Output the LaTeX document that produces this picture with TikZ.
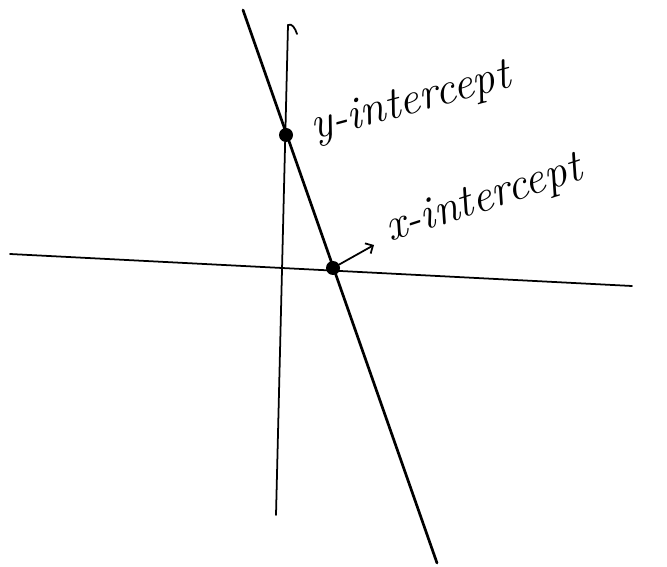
\documentclass[tikz,border=0pt]{standalone}
\usepackage{tikz}
\usetikzlibrary{arrows.meta, calc}

\begin{document}
\begin{tikzpicture}[x=0.03cm, y=-0.03cm, line cap=round]
            \useasboundingbox (0,0) rectangle (667,567);
            \tikzset{
                axis/.style={line width=1.5pt},
                graphline/.style={line width=2.3pt},
                dot/.style={circle, fill=black, inner sep=0pt, minimum size=0.42cm},
                label/.style={font=\fontsize{39}{42}\selectfont\itshape, inner sep=0pt}
            }
            \coordinate (Xleft) at (10, 254);
            \coordinate (Xright) at (632, 286);
            \coordinate (Ytop) at (288, 25);
            \coordinate (Ybot) at (276, 515);
            \coordinate (Ltop) at (243, 10);
            \coordinate (Lbot) at (437, 563);

            \draw[axis] (Xleft) -- (Xright);
            \draw[axis] (Ytop) -- (Ybot);
            \draw[axis] (Ytop) .. controls (292, 23) and (295, 28) .. (297, 34);
            \draw[graphline] (Ltop) -- (Lbot);

            \node[dot] (yint) at (286, 135) {};
            \node[dot] (xint) at (333, 268) {};

            \node[label, anchor=base west, rotate=15] (ylabel) at (314, 140) {y-intercept};
            \node[label, anchor=base west, rotate=18] (xlabel) at (390, 242) {x-intercept};
            \draw[axis, -{Straight Barb[length=5pt]}] (xint) -- ($(xlabel.base west)+(-16, 3)$);
        \end{tikzpicture}
\end{document}
